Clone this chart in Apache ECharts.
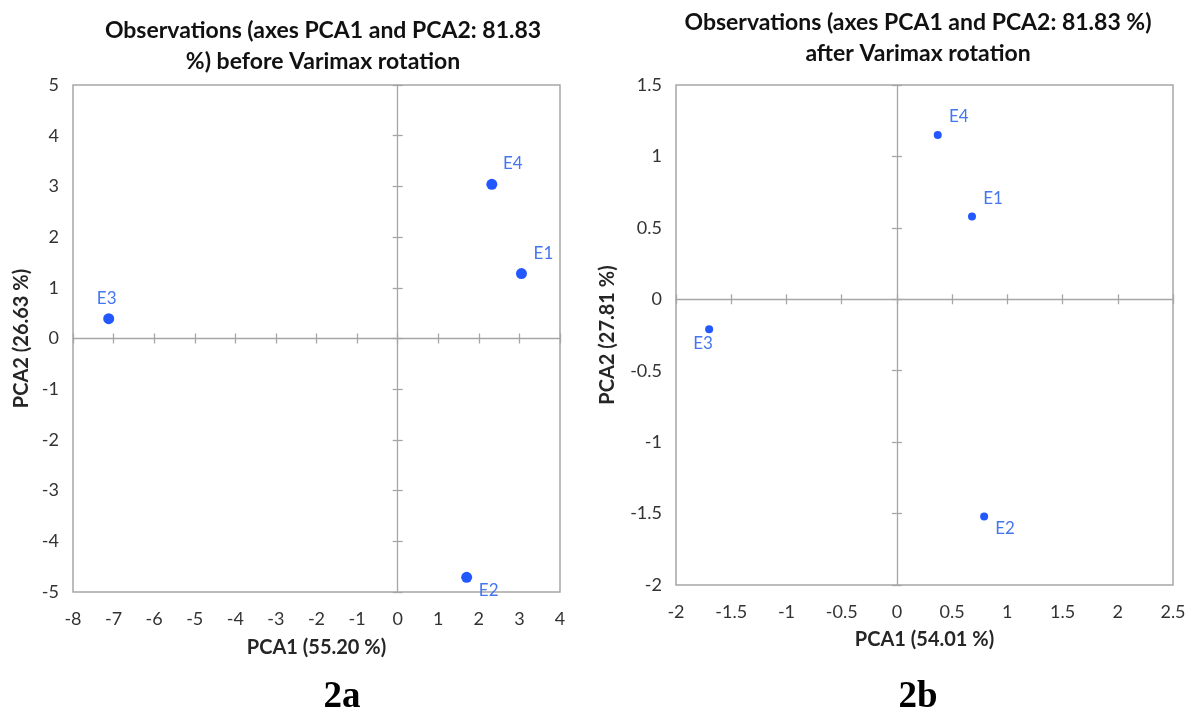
<!DOCTYPE html>
<html><head><meta charset="utf-8">
<script src="https://cdn.jsdelivr.net/npm/echarts@6/dist/echarts.min.js"></script>
<style>html,body{margin:0;padding:0;background:#fff}#c{width:1193px;height:720px}</style>
</head><body><div id="c"></div>
<script>
// Chart 2a (before Varimax rotation)
const namesA = ['E1', 'E2', 'E3', 'E4'];
const pca1A = [3.05, 1.70, -7.12, 2.32];
const pca2A = [1.28, -4.71, 0.39, 3.04];
// Chart 2b (after Varimax rotation)
const namesB = ['E1', 'E2', 'E3', 'E4'];
const pca1B = [0.68, 0.79, -1.70, 0.37];
const pca2B = [0.58, -1.52, -0.21, 1.15];

const titleA = 'Observations (axes PCA1 and PCA2: 81.83\n%) before Varimax rotation';
const titleB = 'Observations (axes PCA1 and PCA2: 81.83 %)\nafter Varimax rotation';
const xNameA = 'PCA1 (55.20 %)', yNameA = 'PCA2 (26.63 %)';
const xNameB = 'PCA1 (54.01 %)', yNameB = 'PCA2 (27.81 %)';

// label offsets (styling)
const offA = {E1: [22, -20], E2: [22, 13], E3: [-2, -20], E4: [21, -21]};
const offB = {E1: [21, -18], E2: [21, 12], E3: [-6, 14], E4: [21, -18]};

const FONT = 'Lato, "Open Sans", sans-serif';
const GRAY = '#a6a6a6';
const DOT = '#2458ff';
const LBL = '#4476f0';

function axesFor(dim, gridIndex, min, max, interval, name, nameGap) {
  const isX = dim === 'x';
  const base = {type: 'value', gridIndex, min, max, interval, splitLine: {show: false}};
  const labelAxis = Object.assign({}, base, {
    position: isX ? 'bottom' : 'left',
    axisLine: {show: false, onZero: false},
    axisTick: {show: false},
    axisLabel: {show: true, color: '#333333', fontSize: 18, fontFamily: FONT, margin: isX ? 18 : 14,
      showMinLabel: true, showMaxLabel: true},
    name, nameLocation: 'middle', nameGap,
    nameTextStyle: {fontFamily: FONT, fontWeight: 'bold', fontSize: 20, color: '#262626'}
  });
  const zeroIn = Object.assign({}, base, {
    position: isX ? 'bottom' : 'left',
    axisLine: {show: true, onZero: true, lineStyle: {color: GRAY, width: 1.3}},
    axisTick: {show: true, inside: true, length: 5, lineStyle: {color: GRAY, width: 1.3}},
    axisLabel: {show: false}
  });
  const zeroOut = Object.assign({}, base, {
    position: isX ? 'bottom' : 'left',
    axisLine: {show: false, onZero: true},
    axisTick: {show: true, inside: false, length: 5, lineStyle: {color: GRAY, width: 1.3}},
    axisLabel: {show: false}
  });
  return [labelAxis, zeroIn, zeroOut];
}

function seriesFor(names, xs, ys, offs, gi, size) {
  return {
    type: 'scatter', xAxisIndex: gi * 3, yAxisIndex: gi * 3, symbolSize: size,
    itemStyle: {color: DOT, opacity: 1}, z: 5,
    data: names.map((n, i) => ({
      name: n, value: [xs[i], ys[i]],
      label: {show: true, formatter: n, position: 'inside', offset: offs[n],
        color: LBL, fontSize: 17, fontFamily: FONT}
    }))
  };
}

const chart = echarts.init(document.getElementById('c'));
chart.setOption({
  backgroundColor: '#fff',
  animation: false,
  title: [
    {text: titleA, left: 318, top: 10, textAlign: 'center',
      textStyle: {fontFamily: FONT, fontWeight: 'bold', fontSize: 23, color: '#111', lineHeight: 31}},
    {text: titleB, left: 913, top: 2, textAlign: 'center',
      textStyle: {fontFamily: FONT, fontWeight: 'bold', fontSize: 23, color: '#111', lineHeight: 31}},
    {text: '2a', left: 337, top: 674, textAlign: 'center',
      textStyle: {fontFamily: '"Liberation Serif", serif', fontWeight: 'bold', fontSize: 37, color: '#000'}},
    {text: '2b', left: 913, top: 674, textAlign: 'center',
      textStyle: {fontFamily: '"Liberation Serif", serif', fontWeight: 'bold', fontSize: 37, color: '#000'}}
  ],
  grid: [
    {left: 73, top: 85, width: 487, height: 507, show: true, borderColor: GRAY, borderWidth: 1.5, containLabel: false},
    {left: 676, top: 85, width: 497, height: 500, show: true, borderColor: GRAY, borderWidth: 1.5, containLabel: false}
  ],
  xAxis: [].concat(
    axesFor('x', 0, -8, 4, 1, xNameA, 46),
    axesFor('x', 1, -2, 2.5, 0.5, xNameB, 45)
  ),
  yAxis: [].concat(
    axesFor('y', 0, -5, 5, 1, yNameA, 41),
    axesFor('y', 1, -2, 1.5, 0.5, yNameB, 58)
  ),
  series: [
    seriesFor(namesA, pca1A, pca2A, offA, 0, 11),
    seriesFor(namesB, pca1B, pca2B, offB, 1, 8)
  ]
});
</script></body></html>
